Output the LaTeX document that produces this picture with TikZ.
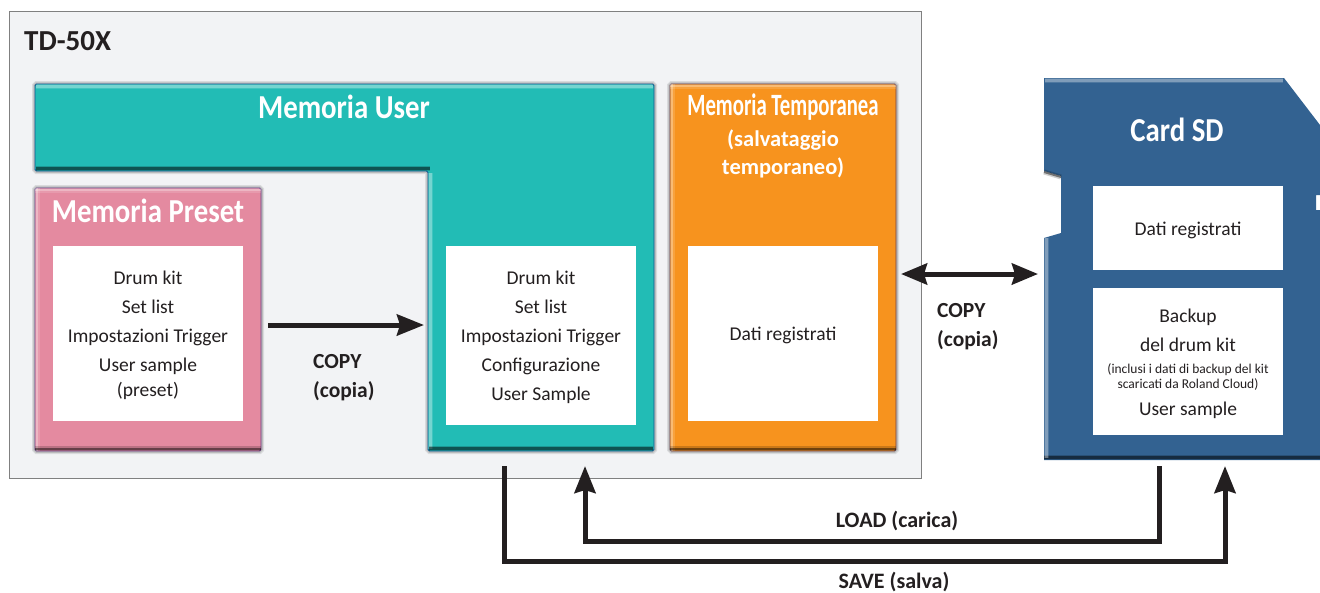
\documentclass[tikz,border=0pt]{standalone}
\usepackage{fontspec}
\setmainfont{Carlito}
\newfontfamily\narrowbold[FakeStretch=0.86]{Carlito Bold}
\newfontfamily\tightbold[FakeStretch=0.67]{Carlito Bold}
\usetikzlibrary{positioning}
\usetikzlibrary{arrows.meta}
\definecolor{frameback}{HTML}{F2F3F5}
\definecolor{tealmem}{HTML}{22BCB5}
\definecolor{pinkmem}{HTML}{E48AA0}
\definecolor{orangemem}{HTML}{F7931E}
\definecolor{bluecard}{HTML}{336291}
\definecolor{inkblack}{HTML}{231F20}
\newcommand{\topgap}{\rule{0pt}{17pt}}
\tikzset{
    glow/.style = {preaction={draw=black,opacity=0.10,line width=6pt}, preaction={draw=black,opacity=0.14,line width=3.5pt}},
    membox/.style = {rectangle, rounded corners=1.5pt, draw=#1!65!blue!70!black, line width=0.9pt, fill=#1, inner sep=0pt, glow},
    whitebox/.style = {rectangle, fill=white, inner sep=0pt, align=center, text=inkblack, minimum width=190pt,
        font=\fontsize{19.5}{29}\selectfont},
    memtitle/.style = {white, inner sep=0pt, align=center, font=\narrowbold\fontsize{33.5}{36}\selectfont},
    memtitlen/.style = {white, inner sep=0pt, align=center, font=\tightbold\fontsize{31}{36}\selectfont},
    sublabel/.style = {white, inner sep=0pt, align=center, font=\bfseries\fontsize{22.5}{28}\selectfont},
    copylabel/.style = {inkblack, inner sep=0pt, align=left, font=\bfseries\fontsize{21.5}{29}\selectfont},
    flowlabel/.style = {inkblack, inner sep=0pt, font=\bfseries\fontsize{22}{24}\selectfont},
    edgeflow/.style = {inkblack, line width=5pt, miter limit=10},
    edgetip/.style = {edgeflow, -{Stealth[inset=3pt,length=27pt,width=21pt]}},
    edgetips/.style = {edgeflow, {Stealth[inset=3pt,length=26pt,width=21pt]}-{Stealth[inset=3pt,length=26pt,width=21pt]}},
    bevellight/.style = {white, opacity=0.28, line width=2.5pt, preaction={draw=white,opacity=0.14,line width=5pt}},
    beveldark/.style = {black, opacity=0.45, line width=2.5pt, preaction={draw=black,opacity=0.18,line width=5pt}}
}
\begin{document}
\begin{tikzpicture}[x=1pt,y=-1pt]
\useasboundingbox (0,0) rectangle (1320,592);
\node[rectangle, draw=black!50, line width=1pt, fill=frameback, minimum width=912pt, minimum height=467pt, inner sep=0pt] at (465,244.5) (frame) {};
\node[inkblack, anchor=west, inner sep=0pt, font=\bfseries\fontsize{29}{30}\selectfont] at (24,41) (device) {TD-50X};
% memory areas
\draw[draw=tealmem!65!blue!70!black, line width=0.9pt, fill=tealmem, rounded corners=1.5pt, glow]
    (35,84) -- (654,84) -- (654,451) -- (428,451) -- (428,171) -- (35,171) -- cycle;
\draw[bevellight] (36,86.5) -- (653,86.5);
\draw[bevellight] (430.5,173) -- (430.5,449);
\draw[beveldark] (36,168.5) -- (430,168.5);
\draw[beveldark] (429,448.5) -- (653,448.5);
\node[memtitle] at (344,107) (usertitle) {Memoria User};
\node[membox=pinkmem, minimum width=226pt, minimum height=263pt] at (148,319.5) (preset) {};
\draw[bevellight] ([yshift=-2.5pt]preset.north west) -- ([yshift=-2.5pt]preset.north east);
\draw[bevellight] ([xshift=2.5pt]preset.north west) -- ([xshift=2.5pt]preset.south west);
\draw[beveldark] ([yshift=2.5pt]preset.south west) -- ([yshift=2.5pt]preset.south east);
\node[memtitle] at (148,211) (presettitle) {Memoria Preset};
\node[membox=orangemem, minimum width=226pt, minimum height=367pt] at (783,267.5) (temp) {};
\draw[bevellight] ([yshift=-2.5pt]temp.north west) -- ([yshift=-2.5pt]temp.north east);
\draw[bevellight] ([xshift=2.5pt]temp.north west) -- ([xshift=2.5pt]temp.south west);
\draw[beveldark] ([yshift=2.5pt]temp.south west) -- ([yshift=2.5pt]temp.south east);
\node[memtitlen] at (783,107) (temptitle) {Memoria Temporanea};
\node[sublabel] at (783,153.5) (tempsub) {(salvataggio\\temporaneo)};
% card
\draw[fill=bluecard, draw=none]
    (1044,78) -- (1284,78) -- (1320,125) -- (1320,195) -- (1316,195) -- (1316,210) -- (1320,210)
    -- (1320,460) -- (1044,460) -- (1044,238) -- (1061,233) -- (1061,176) -- (1044,171) -- cycle;
\draw[bevellight] (1045,80.5) -- (1283,80.5);
\draw[beveldark] (1044,457.5) -- (1320,457.5);
\draw[beveldark, line width=2pt] (1044,172) -- (1061,177);
\draw[bevellight] (1046.5,238) -- (1046.5,458);
\node[memtitle] at (1177,130) (cardtitle) {Card SD};
% contents
\node[whitebox, minimum height=175pt] at (148,333.5) (presetlist)
    {\topgap Drum kit\\Set list\\Impostazioni Trigger\\User sample\\[-4pt](preset)};
\node[whitebox, minimum height=179pt] at (541,335.5) (userlist)
    {\topgap Drum kit\\Set list\\Impostazioni Trigger\\Configurazione\\User Sample};
\node[whitebox, minimum height=175pt] at (783,333.5) (templist) {\topgap Dati registrati};
\node[whitebox, minimum height=84pt] at (1188,228) (carddata) {\rule{0pt}{19pt}Dati registrati};
\node[whitebox, minimum height=147pt] at (1188,361.5) (cardbackup)
    {\rule{0pt}{18pt}Backup\\del drum kit\\[-7pt]{\fontsize{13.5}{13}\selectfont (inclusi i dati di backup del kit}\\[-14pt]{\fontsize{13.5}{13}\selectfont scaricati da Roland Cloud)}\\[-2pt]User sample};
% connectors
\coordinate (copyfrom) at (268,325);
\coordinate (copyto) at (424,325);
\coordinate (tempside) at (901,274);
\coordinate (cardside) at (1038,274);
\coordinate (saveout) at (504,466);
\coordinate (saveturn) at (504,561);
\coordinate (savein) at (1225,466);
\coordinate (loadout) at (1159,466);
\coordinate (loadturn) at (1159,541);
\coordinate (loadin) at (585,466);
\draw[edgetip] (copyfrom) -- (copyto);
\draw[edgetips] (tempside) -- (cardside);
\draw[edgetip] (saveout) -- (saveturn) -| (savein);
\draw[edgetip] (loadout) -- (loadturn) -| (loadin);
\node[copylabel, anchor=north west] at (313,354) (copyleft) {COPY\\(copia)};
\node[copylabel, anchor=north west] at (937,303) (copyright) {COPY\\(copia)};
\node[flowlabel] at (897,521) (loadlabel) {LOAD (carica)};
\node[flowlabel] at (894,582) (savelabel) {SAVE (salva)};
\end{tikzpicture}
\end{document}
